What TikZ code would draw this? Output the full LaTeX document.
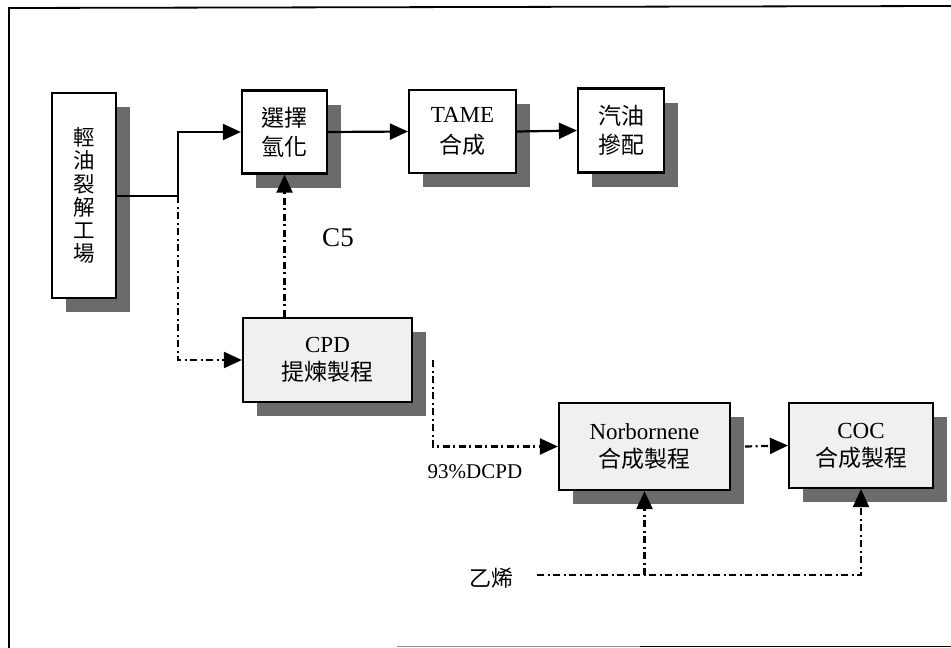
\documentclass[tikz,border=0pt]{standalone}
\usepackage{fontspec}
\setmainfont{Liberation Serif}
\newfontfamily\cjk{Noto Sans CJK TC}
\usetikzlibrary{arrows.meta,shadows,calc}
\begin{document}
\begin{tikzpicture}[x=1pt,y=-1pt,
  box/.style={draw=black, line width=2.2pt, fill=white, inner sep=0pt, align=center,
    font=\fontsize{22}{30}\selectfont,
    drop shadow={shadow xshift=14pt, shadow yshift=-14pt, fill=black!58, opacity=1}},
  lightbox/.style={box, fill=black!6},
  conn/.style={line width=2.2pt},
  dd/.style={line width=2.2pt, dash pattern=on 7pt off 3.5pt on 2pt off 3.5pt},
  tip/.style={-{Triangle[length=18pt,width=16pt]}},
  lbl/.style={inner sep=0pt}
]
\useasboundingbox (0,0) rectangle (951,648);
% frame
\draw[line width=1.8pt] (9,648) -- (9,8) -- (951,6);
\draw[line width=1.8pt, black!45] (397,646.5) -- (640,646.5);
\draw[line width=1.8pt] (640,646.5) -- (951,646.5);

% boxes
\node[box, minimum width=64pt, minimum height=205pt, font=\fontsize{21.5}{23.2}\selectfont\cjk]
  (rf) at (84,195.5) {輕\\油\\裂\\解\\工\\場};
\node[box, minimum width=85pt, minimum height=83pt, font=\fontsize{23}{29}\selectfont\cjk]
  (sh) at (284.5,132) {選擇\\氫化};
\node[box, minimum width=107pt, minimum height=83pt, font=\fontsize{23}{31}\selectfont]
  (tame) at (462.5,131.5) {TAME\\{\cjk 合成}};
\node[box, minimum width=86pt, minimum height=84pt, font=\fontsize{23}{29}\selectfont\cjk]
  (gas) at (621,130.5) {汽油\\摻配};
\node[lightbox, minimum width=169pt, minimum height=84pt, font=\fontsize{23}{28}\selectfont]
  (cpd) at (327.5,360) {CPD\\{\cjk 提煉製程}};
\node[lightbox, minimum width=171pt, minimum height=87pt, font=\fontsize{23}{28}\selectfont]
  (norb) at (644.5,446.5) {Norbornene\\{\cjk 合成製程}};
\node[lightbox, minimum width=144pt, minimum height=85pt, font=\fontsize{23}{28}\selectfont]
  (coc) at (861,445.5) {COC\\{\cjk 合成製程}};

% labels
\node[lbl, font=\fontsize{27}{30}\selectfont] (c5) at (338,238) {C5};
\node[lbl, font=\fontsize{21}{24}\selectfont] (dcpd) at (475,472) {93\%DCPD};
\node[lbl, font=\fontsize{22}{24}\selectfont\cjk] (eth) at (491,578) {乙烯};

% connectors
\coordinate (j) at (178,196);
\draw[conn] (rf.east |- j) -- (j);
\draw[conn, tip] (j) |- (sh.west);
\draw[dd, tip] (j) |- (cpd.west);
\draw[dd, tip] (cpd.north -| sh.south) -- (sh.south);
\draw[conn, tip] (sh.east) -- (tame.west);
\draw[conn, tip] (tame.east) -- (gas.west);
\coordinate (c1) at ($(cpd.east)+(20,0)$);
\draw[dd, tip] (c1) |- (norb.west);
\coordinate (n1) at ($(norb.east)+(14,0)$);
\draw[dd, tip] (n1) -- (coc.west);
\coordinate (e0) at (537,575);
\draw[dd, tip] (e0) -| (coc.south);
\draw[dd, tip] (e0 -| norb.south) -- (norb.south);
\end{tikzpicture}
\end{document}
